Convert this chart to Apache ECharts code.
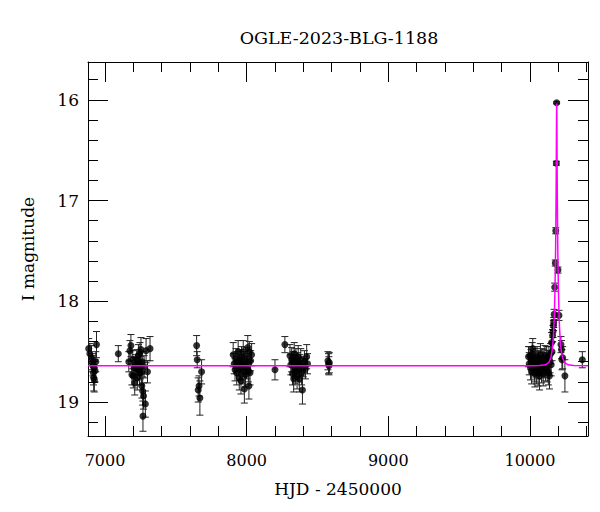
<!DOCTYPE html>
<html><head><meta charset="utf-8">
<script src="https://cdn.jsdelivr.net/npm/echarts@6/dist/echarts.min.js"></script>
<style>html,body{margin:0;padding:0;background:#fff}#c{width:600px;height:512px}</style>
</head><body><div id="c"></div>
<script>
const chartTitle = 'OGLE-2023-BLG-1188';
const xName = 'HJD - 2450000';
const yName = 'I magnitude';
const xRange = [6880, 10410];
const yRange = [15.625, 19.337];

// observations: HJD-2450000
const hjd = [
  6885,6893,6905,6912,6915,6918,6920,6922,6925,6930,6935,6940,
  7094,
  7168,7176,7183,7190,7196,7200,7205,7210,7215,7220,7224,7228,7232,7236,7240,7244,7247,7250,7254,7257,7260,7263,7266,7268,7272,7276,7285,7290,7300,7318,
  7647,7651,7658,7664,7670,7682,
  7905,7912,7918,7925,7930,7935,7940,7944,7948,7952,7956,7960,7964,7968,7972,7976,7980,7984,7988,7992,7996,8000,8004,8008,8012,8016,8019,8024,8028,8035,
  8200,8270,
  8306,8312,8318,8324,8328,8332,8336,8340,8344,8348,8352,8356,8360,8364,8368,8372,8376,8382,8388,8394,8400,8408,8415,8424,8430,
  8574,8578,8581,8584,
  9990,9995,10000,10004,10008,10012,10016,10020,10024,10028,10032,10035,10038,10042,10046,10050,10054,10058,10061,10064,10068,10071,10074,10078,10082,10086,10090,10094,10098,10102,10106,10110,10114,10118,10122,10126,10130,10134,10138,10142,10146,10150,
  10153,10156,10160,10163,10166,10168,10171,10175,10179,10182.5,10186.5,10188.5,10198,10205,10219,10223,10226,10231,10247,10370
];
// I magnitude
const mag = [
  18.47,18.52,18.56,18.61,18.64,18.71,18.76,18.66,18.78,18.69,18.60,18.43,
  18.52,
  18.60,18.49,18.44,18.73,18.58,18.74,18.66,18.81,18.63,18.66,18.58,18.76,18.68,18.54,18.62,18.71,18.51,18.66,18.48,18.71,18.84,18.60,18.89,19.14,18.94,18.65,19.02,18.49,18.70,18.47,
  18.44,18.58,18.88,18.84,18.96,18.70,
  18.53,18.62,18.68,18.57,18.71,18.60,18.50,18.64,18.76,18.58,18.67,18.79,18.55,18.62,18.70,18.50,18.65,18.87,18.60,18.73,18.56,18.66,18.62,18.46,18.69,18.84,18.50,18.71,18.59,18.53,
  18.68,18.43,
  18.54,18.63,18.58,18.72,18.60,18.77,18.52,18.66,18.70,18.57,18.64,18.75,18.61,18.55,18.68,18.77,18.63,18.58,18.71,18.88,18.65,18.60,18.67,18.55,18.62,
  18.59,18.62,18.64,18.61,
  18.55,18.62,18.54,18.66,18.58,18.70,18.52,18.47,18.63,18.60,18.68,18.72,18.57,18.65,18.70,18.55,18.62,18.71,18.59,18.66,18.74,18.60,18.53,18.64,18.69,18.57,18.62,18.72,18.58,18.65,18.54,18.67,18.61,18.56,18.68,18.59,18.71,18.55,18.74,18.60,18.52,18.63,
  18.41,18.50,18.34,18.30,18.24,18.21,18.13,17.86,17.62,17.30,16.63,16.03,17.69,18.14,18.43,18.48,18.58,18.56,18.74,18.58
];
// magnitude errors
const err = [
  .10,.10,.12,.09,.10,.12,.13,.10,.12,.11,.10,.13,
  .08,
  .10,.10,.11,.10,.09,.12,.10,.12,.10,.11,.10,.12,.10,.11,.10,.12,.10,.11,.12,.12,.12,.10,.14,.15,.13,.11,.13,.12,.11,.12,
  .10,.08,.12,.10,.17,.12,
  .12,.10,.11,.10,.12,.10,.11,.10,.12,.10,.11,.13,.10,.09,.12,.11,.10,.14,.10,.12,.10,.11,.10,.12,.11,.13,.10,.12,.10,.11,
  .10,.08,
  .11,.10,.12,.11,.10,.13,.11,.10,.12,.10,.11,.12,.10,.11,.12,.13,.10,.11,.12,.14,.10,.11,.10,.12,.10,
  .09,.10,.09,.10,
  .10,.11,.09,.12,.10,.12,.11,.10,.11,.10,.12,.13,.10,.11,.12,.10,.11,.13,.10,.11,.14,.10,.11,.10,.12,.10,.11,.12,.10,.11,.10,.12,.10,.11,.12,.10,.12,.10,.13,.11,.10,.11,
  .10,.09,.06,.06,.05,.05,.05,.04,.03,.03,.02,.01,.03,.05,.08,.09,.10,.11,.16,.08
];
// model curve
const modelHjd = [6880,10000,10069,10109,10134,10149,10159,10164,10169,10173,10176,10179,10181,10183,10185,10186,10187,10188,10189,10190,10191,10192,10193,10195,10197,10199,10202,10205,10209,10214,10219,10229,10244,10269,10309,10410];
const modelMag = [18.64,18.64,18.637,18.63,18.607,18.555,18.467,18.386,18.26,18.106,17.943,17.715,17.512,17.246,16.887,16.66,16.40,16.154,16.036,16.154,16.40,16.66,16.887,17.246,17.512,17.715,17.943,18.106,18.26,18.386,18.467,18.555,18.607,18.63,18.637,18.64];

const points = hjd.map((t, i) => [t, mag[i]]);
const bars = hjd.map((t, i) => [t, mag[i] - err[i], mag[i] + err[i]]);
const model = modelHjd.map((t, i) => [t, modelMag[i]]);

const FONT = 'DejaVu Serif';
const tickStyle = { color: '#000', width: 1 };
function xAxisDef(pos, labels) {
  return {
    type: 'value', position: pos, min: xRange[0], max: xRange[1], splitNumber: 5,
    axisLine: { show: true, onZero: false, lineStyle: tickStyle },
    axisTick: { show: true, inside: true, length: 20, lineStyle: tickStyle },
    minorTick: { show: true, splitNumber: 5, length: 10, lineStyle: tickStyle },
    splitLine: { show: false },
    axisLabel: labels ? {
      show: true, margin: 16, color: '#000', fontFamily: FONT, fontSize: 16,
      formatter: v => (v % 1000 === 0 ? String(v) : '')
    } : { show: false },
    name: labels ? xName : '', nameLocation: 'middle', nameGap: 44,
    nameTextStyle: { color: '#000', fontFamily: FONT, fontSize: 17 }
  };
}
function yAxisDef(pos, labels) {
  return {
    type: 'value', position: pos, inverse: true, min: yRange[0], max: yRange[1], splitNumber: 5,
    axisLine: { show: true, onZero: false, lineStyle: tickStyle },
    axisTick: { show: true, inside: true, length: 20, lineStyle: tickStyle },
    minorTick: { show: true, splitNumber: 5, length: 10, lineStyle: tickStyle },
    splitLine: { show: false },
    axisLabel: labels ? {
      show: true, margin: 9, color: '#000', fontFamily: FONT, fontSize: 17,
      formatter: v => (Math.abs(v - Math.round(v)) < 1e-9 ? String(Math.round(v)) : '')
    } : { show: false },
    name: labels ? yName : '', nameLocation: 'middle', nameGap: 52, nameRotate: 90,
    nameTextStyle: { color: '#000', fontFamily: FONT, fontSize: 17 }
  };
}

const chart = echarts.init(document.getElementById('c'), null, { renderer: 'svg' });
chart.setOption({
  animation: false,
  backgroundColor: '#fff',
  grid: { left: 88, top: 62, width: 500, height: 374, containLabel: false },
  graphic: [{
    type: 'text', x: 339, y: 38,
    style: { text: chartTitle, fill: '#000', font: '17.5px "DejaVu Serif"', textAlign: 'center', textVerticalAlign: 'middle', align: 'center', verticalAlign: 'middle' }
  }],
  xAxis: [xAxisDef('bottom', true), xAxisDef('top', false)],
  yAxis: [yAxisDef('left', true), yAxisDef('right', false)],
  series: [
    {
      type: 'custom', xAxisIndex: 0, yAxisIndex: 0, data: bars, clip: true, z: 2,
      encode: { x: 0, y: [1, 2] },
      renderItem: function (params, api) {
        const x = api.value(0), lo = api.value(1), hi = api.value(2);
        const p1 = api.coord([x, lo]), p2 = api.coord([x, hi]);
        const w = 3.5;
        const st = { stroke: '#222', lineWidth: 1, fill: null };
        return {
          type: 'group', children: [
            { type: 'line', shape: { x1: p1[0], y1: p1[1], x2: p2[0], y2: p2[1] }, style: st },
            { type: 'line', shape: { x1: p1[0] - w, y1: p1[1], x2: p1[0] + w, y2: p1[1] }, style: st },
            { type: 'line', shape: { x1: p2[0] - w, y1: p2[1], x2: p2[0] + w, y2: p2[1] }, style: st }
          ]
        };
      }
    },
    {
      type: 'scatter', xAxisIndex: 0, yAxisIndex: 0, data: points, symbol: 'circle', symbolSize: 7,
      itemStyle: { color: '#000' }, z: 3, clip: true
    },
    {
      type: 'line', xAxisIndex: 0, yAxisIndex: 0, data: model, showSymbol: false, symbol: 'none',
      lineStyle: { color: '#ff00ff', width: 1.5 }, z: 4, clip: true
    }
  ]
});
</script>
</body></html>
